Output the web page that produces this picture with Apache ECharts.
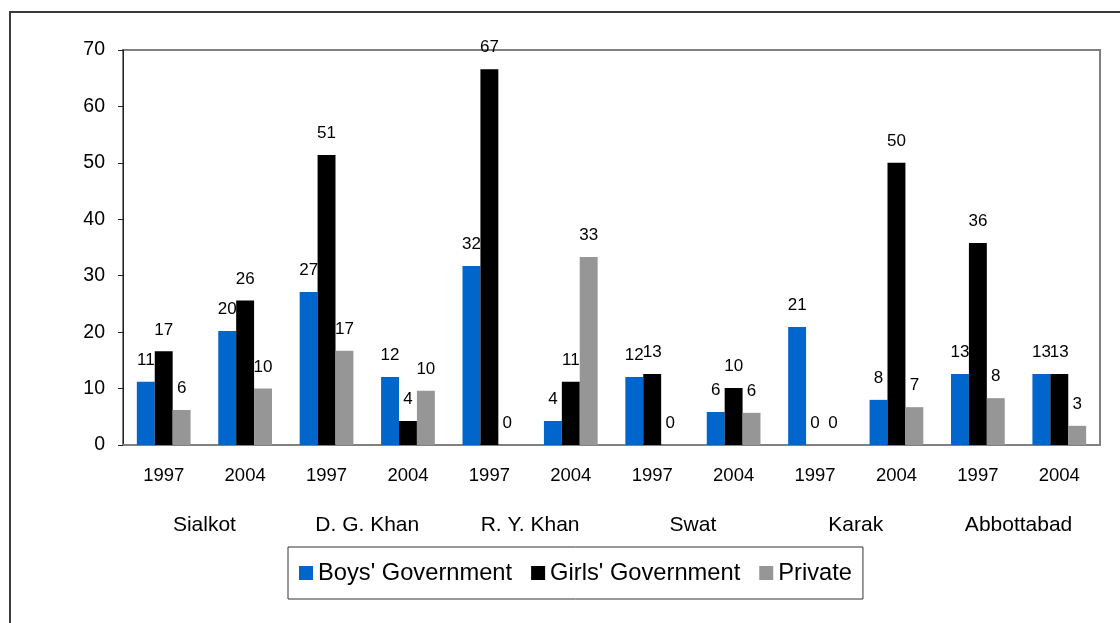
<!DOCTYPE html>
<html>
<head>
<meta charset="utf-8">
<script src="https://cdn.jsdelivr.net/npm/echarts@6/dist/echarts.min.js"></script>
<style>
  html, body { margin: 0; padding: 0; background: #ffffff; }
  #chart { width: 1120px; height: 623px; }
</style>
</head>
<body>
<div id="chart"></div>
<script>
// Survey years per district, grouped bars by school type
const years = ['1997', '2004', '1997', '2004', '1997', '2004', '1997', '2004', '1997', '2004', '1997', '2004'];
const districts = ['Sialkot', 'D. G. Khan', 'R. Y. Khan', 'Swat', 'Karak', 'Abbottabad'];
const seriesNames = ["Boys' Government", "Girls' Government", 'Private'];

const boysGovernment = [11.2, 20.2, 27.1, 12.05, 31.7, 4.25, 12.05, 5.85, 20.9, 8.0, 12.6, 12.6];
const girlsGovernment = [16.6, 25.6, 51.4, 4.25, 66.6, 11.2, 12.6, 10.1, 0, 50.0, 35.8, 12.6];
const privateSchools = [6.2, 10.0, 16.7, 9.6, 0, 33.3, 0, 5.7, 0, 6.7, 8.3, 3.4];

const yTicks = { min: 0, max: 70, interval: 10 };

const FONT = "'Liberation Sans', Arial, sans-serif";
const colors = ['#0066CC', '#000000', '#969696'];
const values = [boysGovernment, girlsGovernment, privateSchools];

const chart = echarts.init(document.getElementById('chart'), null, { renderer: 'canvas' });

const series = seriesNames.map((name, i) => ({
  name: name,
  type: 'bar',
  xAxisIndex: 0,
  data: values[i],
  barGap: '0%',
  barCategoryGap: '34%',
  itemStyle: { color: colors[i] },
  label: {
    show: true,
    position: 'top',
    distance: 13,
    color: '#000',
    fontFamily: FONT,
    fontSize: 17,
    formatter: p => String(Math.round(p.value))
  },
  emphasis: { disabled: true }
}));

chart.setOption({
  animation: false,
  backgroundColor: '#ffffff',
  color: colors,
  textStyle: { fontFamily: FONT },
  graphic: [{
    type: 'rect',
    shape: { x: 10, y: 12, width: 1300, height: 800 },
    style: { fill: 'none', stroke: '#3c3c3c', lineWidth: 2 },
    silent: true,
    z: -1
  }],
  grid: {
    left: 123, right: 20, top: 50, bottom: 178,
    show: true,
    borderColor: '#808080',
    borderWidth: 2,
    backgroundColor: '#ffffff'
  },
  legend: {
    data: seriesNames,
    left: 288,
    top: 547,
    orient: 'horizontal',
    icon: 'rect',
    itemWidth: 14,
    itemHeight: 14,
    itemGap: 19,
    padding: [14, 11, 14, 11],
    borderColor: '#333',
    borderWidth: 1,
    backgroundColor: '#ffffff',
    textStyle: { fontFamily: FONT, fontSize: 23.7, color: '#000', padding: [0, 0, 0, 0] },
    selectedMode: false
  },
  xAxis: [{
    type: 'category',
    data: years,
    position: 'bottom',
    axisLine: { show: true, lineStyle: { color: '#808080', width: 2 } },
    axisTick: { show: false },
    axisLabel: { color: '#000', fontFamily: FONT, fontSize: 18.5, margin: 21 },
    splitLine: { show: false }
  }, {
    type: 'category',
    data: districts,
    position: 'bottom',
    axisLine: { show: false },
    axisTick: { show: false },
    axisLabel: { color: '#000', fontFamily: FONT, fontSize: 21, margin: 70 },
    splitLine: { show: false }
  }],
  yAxis: {
    type: 'value',
    min: yTicks.min,
    max: yTicks.max,
    interval: yTicks.interval,
    axisLine: { show: true, lineStyle: { color: '#222', width: 1 } },
    axisTick: { show: true, length: 5, lineStyle: { color: '#222' } },
    axisLabel: { color: '#000', fontFamily: FONT, fontSize: 19.5, margin: 18 },
    splitLine: { show: false }
  },
  series: series
});
</script>
</body>
</html>
